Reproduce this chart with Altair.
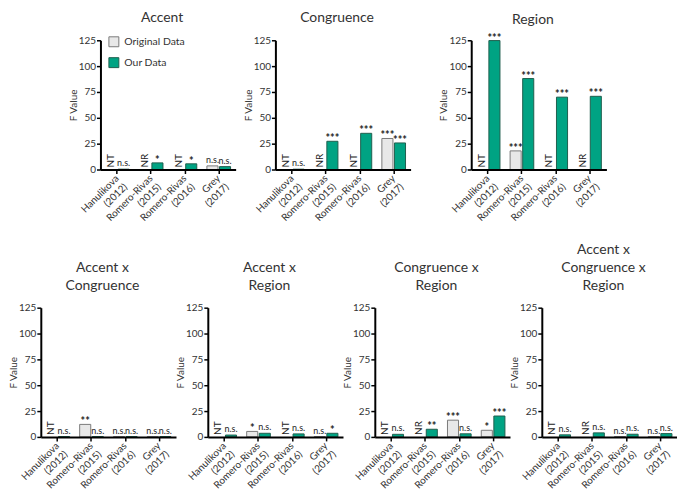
import altair as alt
import pandas as pd
import numpy as np

FONT = "Lato"

studies = ["Hanulikova\n(2012)", "Romero-Rivas\n(2015)", "Romero-Rivas\n(2016)", "Grey\n(2017)"]
series = ["Original Data", "Our Data"]
fill_colors = ["#e8e8e8", "#00a383"]
stroke_colors = ["#7a7a7a", "#1f5f4e"]
y_ticks = [0, 25, 50, 75, 100, 125]

# F values per effect (None = not tested / not reported)
accent_orig = [None, None, None, 3.5]
accent_ours = [0.3, 6.4, 5.5, 2.8]
accent_orig_lab = ["NT", "NR", "NT", "n.s."]
accent_ours_lab = ["n.s.", "*", "*", "n.s."]

congruence_orig = [None, None, None, 30.0]
congruence_ours = [0.3, 27.3, 35.0, 25.7]
congruence_orig_lab = ["NT", "NR", "NT", "***"]
congruence_ours_lab = ["n.s.", "***", "***", "***"]

region_orig = [None, 18.0, None, None]
region_ours = [124.7, 88.0, 70.0, 70.8]
region_orig_lab = ["NT", "***", "NT", "NR"]
region_ours_lab = ["***", "***", "***", "***"]

axc_orig = [None, 12.1, 0.3, 0.3]
axc_ours = [0.3, 0.3, 0.3, 0.3]
axc_orig_lab = ["NT", "**", "n.s.", "n.s."]
axc_ours_lab = ["n.s.", "n.s.", "n.s.", "n.s."]

axr_orig = [None, 5.3, None, 0.3]
axr_ours = [1.8, 3.5, 2.9, 3.5]
axr_orig_lab = ["NT", "*", "NT", "n.s."]
axr_ours_lab = ["n.s.", "n.s.", "n.s.", "*"]

cxr_orig = [None, None, 16.2, 6.4]
cxr_ours = [2.5, 7.4, 3.0, 20.2]
cxr_orig_lab = ["NT", "NR", "***", "*"]
cxr_ours_lab = ["n.s.", "**", "n.s.", "***"]

axcxr_orig = [None, None, 0.3, 0.3]
axcxr_ours = [2.0, 3.9, 2.6, 3.2]
axcxr_orig_lab = ["NT", "NR", "n.s.", "n.s."]
axcxr_ours_lab = ["n.s.", "n.s.", "n.s.", "n.s."]

W = 136
H = 130


def panel(title, orig, ours, orig_lab, ours_lab, legend=False, title_pad=0, title_offset=12):
    rows = []
    for i, s in enumerate(studies):
        for ser, vals, labs in ((series[0], orig, orig_lab), (series[1], ours, ours_lab)):
            v = vals[i]
            rows.append({
                "study": s,
                "series": ser,
                "value": np.nan if v is None else v,
                "ypos": 0.0 if v is None else v,
                "label": labs[i],
            })
    df = pd.DataFrame(rows)

    xenc = alt.X("study:N", sort=studies,
                 scale=alt.Scale(paddingInner=0.3, paddingOuter=0.15),
                 axis=alt.Axis(title=None, labelAngle=-45, labelAlign="right",
                               labelBaseline="middle",
                               labelExpr="split(datum.label, '\\n')",
                               labelFont=FONT, labelFontSize=10, labelColor="#333",
                               labelLineHeight=12, labelPadding=3, labelOverlap=False,
                               tickSize=4, tickWidth=1.5, tickColor="black",
                               domainColor="black", domainWidth=2, zindex=1))
    xoff = alt.XOffset("series:N", sort=series, scale=alt.Scale(paddingInner=0.12))
    yaxis = alt.Axis(title="F Value", values=y_ticks, grid=False,
                     labelOverlap=False, labelFlush=False,
                     labelFont=FONT, labelFontSize=10, labelColor="#333",
                     titleFont=FONT, titleFontSize=10, titleFontWeight="normal",
                     titleColor="#333", titlePadding=title_pad,
                     tickSize=4, tickWidth=1.5, tickColor="black",
                     labelPadding=1, domainColor="black", domainWidth=2,
                     zindex=1)
    yscale = alt.Scale(domain=[0, 125], nice=False)
    yenc = alt.Y("ypos:Q", scale=yscale, axis=yaxis)

    if legend:
        leg = alt.Legend(title=None, orient="none", legendX=8, legendY=-4,
                         labelFont=FONT, labelFontSize=10.5, labelColor="#333",
                         symbolType="square", symbolSize=100, symbolStrokeColor="#555",
                         symbolStrokeWidth=1, rowPadding=6, labelOffset=5)
    else:
        leg = None

    base = alt.Chart(df).encode(x=xenc, xOffset=xoff, y=yenc)
    bars = base.transform_filter("isValid(datum.value)").mark_bar(strokeWidth=1).encode(
        color=alt.Color("series:N", scale=alt.Scale(domain=series, range=fill_colors), legend=leg),
        stroke=alt.Stroke("series:N", scale=alt.Scale(domain=series, range=stroke_colors), legend=None),
    )
    txt_ns = base.transform_filter("datum.label == 'n.s.'").mark_text(
        font=FONT, fontSize=9, baseline="bottom", dy=-1, color="#222"
    ).encode(text="label:N")
    txt_star = base.transform_filter("indexof(datum.label, '*') >= 0").mark_text(
        font=FONT, fontSize=11, fontWeight="bold", baseline="bottom", dy=3, color="#222"
    ).encode(text="label:N")
    txt_v = base.transform_filter("datum.label == 'NT' || datum.label == 'NR'").mark_text(
        font=FONT, fontSize=10, angle=270, align="left", baseline="middle", dx=2, color="#222"
    ).encode(text="label:N")

    return alt.layer(bars, txt_ns, txt_star, txt_v).properties(
        width=W, height=H,
        title=alt.TitleParams(text=title, font=FONT, fontSize=14, fontWeight="normal",
                              color="#333", frame="group", anchor="middle", dx=-6,
                              lineHeight=18, offset=title_offset),
    )


p1 = panel(["Accent"], accent_orig, accent_ours, accent_orig_lab, accent_ours_lab, legend=True, title_offset=10)
p2 = panel(["Congruence"], congruence_orig, congruence_ours, congruence_orig_lab, congruence_ours_lab, title_offset=10)
p3 = panel(["Region"], region_orig, region_ours, region_orig_lab, region_ours_lab, title_offset=6)
p4 = panel([" ", "Accent x", "Congruence"], axc_orig, axc_ours, axc_orig_lab, axc_ours_lab, title_offset=10)
p5 = panel([" ", "Accent x", "Region"], axr_orig, axr_ours, axr_orig_lab, axr_ours_lab, title_offset=10)
p6 = panel([" ", "Congruence x", "Region"], cxr_orig, cxr_ours, cxr_orig_lab, cxr_ours_lab, title_offset=10)
p7 = panel(["Accent x", "Congruence x", "Region"], axcxr_orig, axcxr_ours, axcxr_orig_lab, axcxr_ours_lab, title_offset=10)


def spacer(w):
    return alt.Chart(pd.DataFrame({"a": [0]})).mark_point(opacity=0).properties(width=w, height=10)


def indep(c):
    return c.resolve_scale(color="independent", stroke="independent").resolve_legend(
        color="independent", stroke="independent")


top = indep(alt.hconcat(spacer(60), p1, spacer(40), p2, spacer(61), p3, spacing=0, bounds="flush"))
bottom = indep(alt.hconcat(p4, p5, p6, p7, spacing=32, bounds="flush"))

chart = indep(alt.vconcat(top, bottom, spacing=11)).properties(
    padding={"left": 0, "top": 2, "right": 0, "bottom": 0}
).configure(font=FONT).configure_view(stroke=None)

chart.save("out.html", embed_options={"renderer": "svg", "actions": False})
